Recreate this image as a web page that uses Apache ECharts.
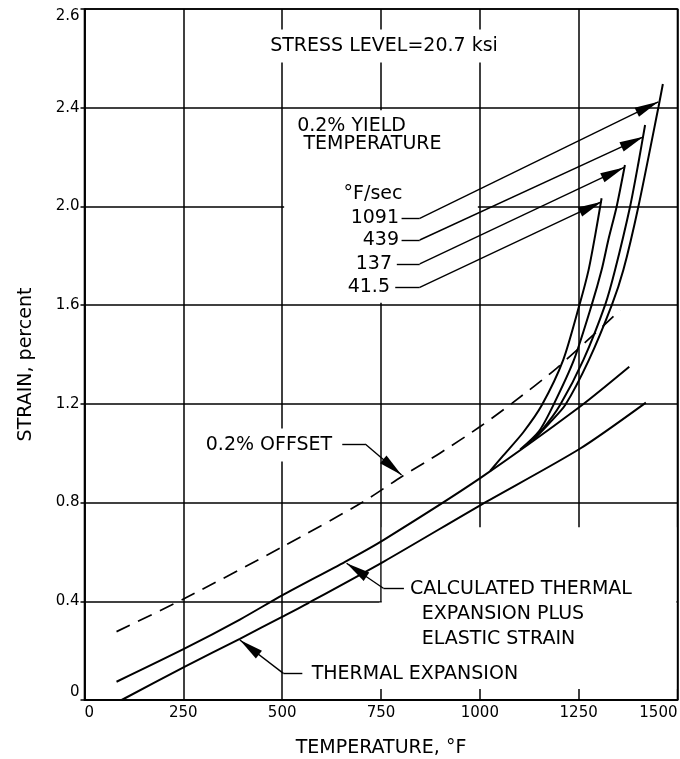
<!DOCTYPE html>
<html><head><meta charset="utf-8">
<script src="https://cdn.jsdelivr.net/npm/echarts@6/dist/echarts.min.js"></script>
<style>html,body{margin:0;padding:0;background:#fff}#c{width:680px;height:759px}</style>
</head><body><div id="c"></div>
<script>
// ---- data (temperature °F, strain %) ----
const xTicks = [0, 250, 500, 750, 1000, 1250, 1500];
const yTicks = [0, 0.4, 0.8, 1.2, 1.6, 2.0, 2.4, 2.8];
const yTickLabels = ['0', '0.4', '0.8', '1.2', '1.6', '2.0', '2.4', '2.6'];

const thermalT = [94, 254, 393, 501, 565, 756, 1002, 1253, 1420];
const thermalS = [0, 0.135, 0.248, 0.338, 0.392, 0.56, 0.79, 1.018, 1.205];

const calcT = [81, 254, 393, 501, 659, 756, 1000, 1253, 1378];
const calcS = [0.074, 0.209, 0.326, 0.425, 0.56, 0.648, 0.898, 1.188, 1.35];

const offsetT = [81, 254, 501, 705, 802, 899, 1000, 1081, 1194, 1355];
const offsetS = [0.277, 0.412, 0.621, 0.803, 0.905, 1.0, 1.107, 1.202, 1.344, 1.58];

const rate41T = [1026, 1059, 1110, 1157, 1211, 1252, 1275, 1292, 1308];
const rate41S = [0.928, 0.99, 1.085, 1.195, 1.378, 1.601, 1.742, 1.885, 2.033];

const rate137T = [1102, 1150, 1186, 1238, 1283, 1308, 1325, 1346, 1367];
const rate137S = [1.015, 1.09, 1.195, 1.378, 1.601, 1.742, 1.864, 1.999, 2.168];

const rate439T = [1119, 1160, 1203, 1262, 1317, 1342, 1380, 1401, 1418];
const rate439S = [1.035, 1.1, 1.195, 1.378, 1.601, 1.742, 1.999, 2.175, 2.33];

const rate1091T = [1135, 1175, 1216, 1276, 1334, 1363, 1401, 1452, 1463];
const rate1091S = [1.053, 1.12, 1.195, 1.378, 1.601, 1.742, 1.999, 2.404, 2.496];

const rateLabels = ['1091', '439', '137', '41.5'];

// ---- helpers ----
const zip = (a, b) => a.map((v, i) => [v, b[i]]);
const FONT = '"DejaVu Sans", "Liberation Sans", sans-serif';
const curve = (name, T, S, extra) => Object.assign({
  name, type: 'line', data: zip(T, S), showSymbol: false, smooth: 0.25,
  lineStyle: { color: '#000', width: 2 }, silent: true, z: 3
}, extra || {});

const ARROW = { symbol: 'triangle', symbolSize: [10, 24], symbolOffset: [0, 12] };
const seg = (a, b, arrow) => [
  { coord: a, symbol: 'none' },
  Object.assign({ coord: b }, arrow ? ARROW : { symbol: 'none' })
];
// leader lines: [labelEnd, bend, tip]
const leaders = [
  [[802, 1.952], [848, 1.952], [1451.6, 2.424]],
  [[802, 1.864], [848, 1.864], [1413.6, 2.282]],
  [[790, 1.767], [848, 1.767], [1364.8, 2.158]],
  [[786, 1.672], [848, 1.672], [1308.4, 2.019]],
  [[652, 1.037], [710, 1.037], [802, 0.912]],
  [[808, 0.453], [756, 0.453], [663, 0.554]],
  [[551, 0.108], [503, 0.108], [393, 0.243]]
];
const leaderData = [];
leaders.forEach(l => { leaderData.push(seg(l[0], l[1], false)); leaderData.push(seg(l[1], l[2], true)); });

const txt = (text, x, y, align, extra) => ({
  type: 'text', z: 4, silent: true,
  style: Object.assign({
    text, x, y, font: '19px ' + FONT, fill: '#000',
    textAlign: align, align: align, textVerticalAlign: 'middle', verticalAlign: 'middle'
  }, extra || {})
});
const white = { backgroundColor: '#fff', padding: [7, 5] };

const chart = echarts.init(document.getElementById('c'), null, { renderer: 'canvas' });
chart.setOption({
  animation: false,
  backgroundColor: '#fff',
  grid: { left: 84.5, right: 2.5, top: 9, bottom: 59, show: true, borderColor: '#000', borderWidth: 1.6, outerBoundsMode: 'none', containLabel: false },
  xAxis: {
    type: 'value', min: xTicks[0], max: xTicks[xTicks.length - 1], interval: 250,
    name: 'TEMPERATURE, °F', nameLocation: 'middle', nameGap: 39,
    nameTextStyle: { fontFamily: FONT, fontSize: 19, color: '#000' },
    axisLine: { show: true, lineStyle: { color: '#000', width: 1.6 } },
    axisTick: { show: false },
    axisLabel: { fontFamily: FONT, fontSize: 15, color: '#000', margin: 6, alignMinLabel: 'left', alignMaxLabel: 'right', showMinLabel: true, showMaxLabel: true, hideOverlap: false,
      formatter: v => String(v) },
    splitLine: { show: true, lineStyle: { color: '#000', width: 1.5 } }
  },
  yAxis: {
    type: 'value', min: yTicks[0], max: yTicks[yTicks.length - 1], interval: 0.4,
    name: 'STRAIN, percent', nameLocation: 'middle', nameGap: 49, nameRotate: 90,
    nameTextStyle: { fontFamily: FONT, fontSize: 19, color: '#000', padding: [0, 20, 0, 0] },
    axisLine: { show: true, lineStyle: { color: '#000', width: 1.6 } },
    axisTick: { show: true, length: 4, lineStyle: { color: '#000', width: 1.5 } },
    axisLabel: {
      fontFamily: FONT, fontSize: 15, color: '#000', margin: 5,
      verticalAlignMinLabel: 'bottom', verticalAlignMaxLabel: 'top', showMinLabel: true, showMaxLabel: true, hideOverlap: false,
      formatter: v => { const i = yTicks.findIndex(t => Math.abs(t - v) < 1e-6); return i >= 0 ? yTickLabels[i] : ''; }
    },
    splitLine: { show: true, lineStyle: { color: '#000', width: 1.5 } }
  },
  series: [
    curve('Thermal expansion', thermalT, thermalS, {
      markArea: {
        silent: true, z: 1,
        itemStyle: { color: '#fff', borderWidth: 0 },
        label: { show: false },
        data: [
          [{ coord: [746, 0.045] }, { coord: [1497, 0.395] }],
          [{ coord: [752, 0.39] }, { coord: [1497, 0.70] }],
          [{ coord: [505, 1.61] }, { coord: [995, 2.39] }]
        ]
      }
    }),
    curve('Calculated thermal expansion plus elastic strain', calcT, calcS),
    curve('0.2% offset', offsetT, offsetS, { lineStyle: { color: '#000', width: 1.7, type: [15, 9] } }),
    curve('41.5 °F/sec', rate41T, rate41S),
    curve('137 °F/sec', rate137T, rate137S),
    curve('439 °F/sec', rate439T, rate439S),
    curve('1091 °F/sec', rate1091T, rate1091S),
    {
      name: 'leaders', type: 'line', data: [], silent: true,
      markLine: {
        silent: true, z: 5, animation: false,
        lineStyle: { color: '#000', width: 1.4, type: 'solid' },
        itemStyle: { color: '#000' },
        label: { show: false }, emphasis: { disabled: true },
        data: leaderData
      }
    }
  ],
  graphic: [
    txt('STRESS LEVEL=20.7 ksi', 384, 46, 'center', white),
    txt('0.2% YIELD', 351.5, 126, 'center'),
    txt('TEMPERATURE', 372.5, 144.5, 'center'),
    txt('°F/sec', 373, 194, 'center'),
    txt(rateLabels[0], 399, 218.5, 'right'),
    txt(rateLabels[1], 399, 240, 'right'),
    txt(rateLabels[2], 392, 264, 'right'),
    txt(rateLabels[3], 390, 287, 'right'),
    txt('0.2% OFFSET', 269, 445, 'center', white),
    txt('CALCULATED THERMAL', 410, 589, 'left'),
    txt('EXPANSION PLUS', 421.7, 613.7, 'left'),
    txt('ELASTIC STRAIN', 421.7, 638.7, 'left'),
    txt('THERMAL EXPANSION', 311.7, 673.7, 'left')
  ]
});
</script></body></html>
